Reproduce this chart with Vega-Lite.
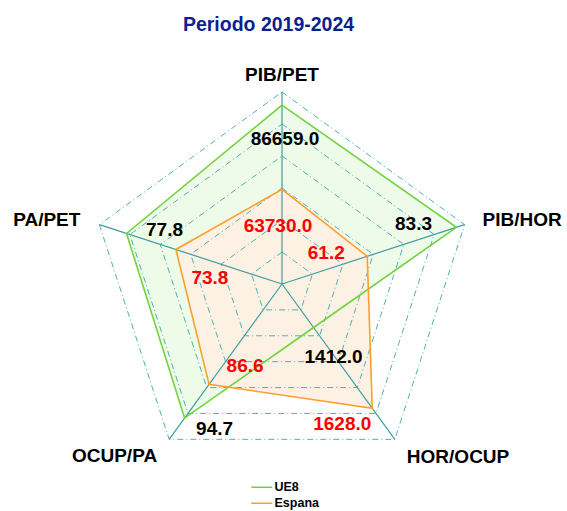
{
  "$schema": "https://vega.github.io/schema/vega-lite/v6.json",
  "width": 567,
  "height": 471,
  "autosize": "none",
  "padding": {"top": 40, "left": 0, "right": 0, "bottom": 0},
  "background": "white",
  "config": {"view": {"stroke": null}, "font": "Liberation Sans"},
  "title": {"text": "Periodo 2019-2024", "font": "Liberation Sans", "fontSize": 19.5, "fontWeight": "bold", "color": "#0b1f8f", "anchor": "middle", "offset": 5, "dx": -15},
  "datasets": {
    "axes": [
      {"axis": "PIB/PET", "order": 0, "lo": 37980, "hi": 90210, "rings": [0.1667, 0.3333, 0.5, 0.6667, 0.8333, 1]},
      {"axis": "PIB/HOR", "order": 1, "lo": 40.1, "hi": 85.3, "rings": [0.1667, 0.3333, 0.5, 0.6667, 0.8333, 1]},
      {"axis": "HOR/OCUP", "order": 2, "lo": 1295.7, "hi": 1711.1, "rings": [0.1667, 0.3333, 0.5, 0.6667, 0.8333, 1]},
      {"axis": "OCUP/PA", "order": 3, "lo": 62.5, "hi": 99.8, "rings": [0.1667, 0.3333, 0.5, 0.6667, 0.8333, 1]},
      {"axis": "PA/PET", "order": 4, "lo": 65.2, "hi": 80.0, "rings": [0.1667, 0.3333, 0.5, 0.6667, 0.8333, 1]}
    ],
    "vals": [
      {"axis": "PIB/PET", "serie": "UE8", "value": 86659.0},
      {"axis": "PIB/HOR", "serie": "UE8", "value": 83.3},
      {"axis": "HOR/OCUP", "serie": "UE8", "value": 1412.0},
      {"axis": "OCUP/PA", "serie": "UE8", "value": 94.7},
      {"axis": "PA/PET", "serie": "UE8", "value": 77.8},
      {"axis": "PIB/PET", "serie": "Espana", "value": 63730.0},
      {"axis": "PIB/HOR", "serie": "Espana", "value": 61.2},
      {"axis": "HOR/OCUP", "serie": "Espana", "value": 1628.0},
      {"axis": "OCUP/PA", "serie": "Espana", "value": 86.6},
      {"axis": "PA/PET", "serie": "Espana", "value": 73.8}
    ]
  },
  "layer": [
    {
      "data": {"name": "vals"},
      "transform": [
        {"filter": "datum.serie == 'UE8'"},
        {"lookup": "axis", "from": {"data": {"name": "axes"}, "key": "axis", "fields": ["order", "lo", "hi"]}},
        {"calculate": "(datum.value - datum.lo) / (datum.hi - datum.lo)", "as": "r"},
        {"calculate": "(90 - 72 * datum.order) * PI / 180", "as": "ang"},
        {"calculate": "datum.r * cos(datum.ang)", "as": "px"},
        {"calculate": "datum.r * sin(datum.ang)", "as": "py"}
      ],
      "mark": {"type": "line", "interpolate": "linear-closed", "fill": "#eefbe8", "strokeOpacity": 0},
      "encoding": {
        "x": {"field": "px", "type": "quantitative", "scale": {"domain": [-1.46875, 1.484375], "nice": false, "zero": false}, "axis": null},
        "y": {"field": "py", "type": "quantitative", "scale": {"domain": [-1.1823, 1.2708], "nice": false, "zero": false}, "axis": null},
        "order": {"field": "order", "type": "quantitative"}
      }
    },
    {
      "data": {"name": "vals"},
      "transform": [
        {"filter": "datum.serie == 'Espana'"},
        {"lookup": "axis", "from": {"data": {"name": "axes"}, "key": "axis", "fields": ["order", "lo", "hi"]}},
        {"calculate": "(datum.value - datum.lo) / (datum.hi - datum.lo)", "as": "r"},
        {"calculate": "(90 - 72 * datum.order) * PI / 180", "as": "ang"},
        {"calculate": "datum.r * cos(datum.ang)", "as": "px"},
        {"calculate": "datum.r * sin(datum.ang)", "as": "py"}
      ],
      "mark": {"type": "line", "interpolate": "linear-closed", "fill": "#fdf1e3", "strokeOpacity": 0},
      "encoding": {
        "x": {"field": "px", "type": "quantitative"},
        "y": {"field": "py", "type": "quantitative"},
        "order": {"field": "order", "type": "quantitative"}
      }
    },
    {
      "data": {"name": "axes"},
      "transform": [
        {"flatten": ["rings"]},
        {"calculate": "(90 - 72 * datum.order) * PI / 180", "as": "ang"},
        {"calculate": "datum.rings * cos(datum.ang)", "as": "px"},
        {"calculate": "datum.rings * sin(datum.ang)", "as": "py"}
      ],
      "mark": {"type": "line", "interpolate": "linear-closed", "stroke": "#4fb0b3", "strokeWidth": 1, "strokeDash": [6, 3, 1, 3]},
      "encoding": {
        "x": {"field": "px", "type": "quantitative"},
        "y": {"field": "py", "type": "quantitative"},
        "detail": {"field": "rings", "type": "nominal"},
        "order": {"field": "order", "type": "quantitative"}
      }
    },
    {
      "data": {"name": "axes"},
      "transform": [
        {"calculate": "(90 - 72 * datum.order) * PI / 180", "as": "ang"},
        {"calculate": "cos(datum.ang)", "as": "ox"},
        {"calculate": "sin(datum.ang)", "as": "oy"},
        {"calculate": "0", "as": "zero"}
      ],
      "mark": {"type": "rule", "stroke": "#3d9ea1", "strokeWidth": 1.2},
      "encoding": {
        "x": {"field": "zero", "type": "quantitative"},
        "y": {"field": "zero", "type": "quantitative"},
        "x2": {"field": "ox"},
        "y2": {"field": "oy"}
      }
    },
    {
      "data": {"name": "vals"},
      "transform": [
        {"lookup": "axis", "from": {"data": {"name": "axes"}, "key": "axis", "fields": ["order", "lo", "hi"]}},
        {"calculate": "(datum.value - datum.lo) / (datum.hi - datum.lo)", "as": "r"},
        {"calculate": "(90 - 72 * datum.order) * PI / 180", "as": "ang"},
        {"calculate": "datum.r * cos(datum.ang)", "as": "px"},
        {"calculate": "datum.r * sin(datum.ang)", "as": "py"}
      ],
      "mark": {"type": "line", "interpolate": "linear-closed", "strokeWidth": 1.6},
      "encoding": {
        "x": {"field": "px", "type": "quantitative"},
        "y": {"field": "py", "type": "quantitative"},
        "order": {"field": "order", "type": "quantitative"},
        "color": {"field": "serie", "type": "nominal", "scale": {"domain": ["UE8", "Espana"], "range": ["#6fd43f", "#ff9f2a"]},
          "legend": {"title": null, "orient": "none", "legendX": 255.5, "legendY": 441, "symbolType": "M-2.1,0H2.1", "symbolSize": 100, "symbolStrokeWidth": 1.5, "labelFont": "Liberation Sans", "labelFontSize": 12.5, "labelFontWeight": "bold", "labelColor": "black", "labelOffset": 6.5, "rowPadding": 3, "padding": 0}}
      }
    },
    {
      "data": {"name": "vals"},
      "transform": [
        {"lookup": "axis", "from": {"data": {"name": "axes"}, "key": "axis", "fields": ["order", "lo", "hi"]}},
        {"calculate": "(datum.value - datum.lo) / (datum.hi - datum.lo)", "as": "r"},
        {"calculate": "(90 - 72 * datum.order) * PI / 180", "as": "ang"},
        {"calculate": "datum.r * cos(datum.ang)", "as": "px"},
        {"calculate": "datum.r * sin(datum.ang)", "as": "py"},
        {"calculate": "format(datum.value, '.1f')", "as": "lbl"}
      ],
      "encoding": {
        "x": {"field": "px", "type": "quantitative"},
        "y": {"field": "py", "type": "quantitative"},
        "text": {"field": "lbl", "type": "nominal"}
      },
      "layer": [
        {"transform": [{"filter": "datum.serie == 'UE8' && datum.axis == 'PIB/PET'"}], "mark": {"type": "text", "fontSize": 19, "fontWeight": "bold", "color": "black", "align": "center", "baseline": "middle", "dx": 3, "dy": 34}},
        {"transform": [{"filter": "datum.serie == 'UE8' && datum.axis == 'PIB/HOR'"}], "mark": {"type": "text", "fontSize": 19, "fontWeight": "bold", "color": "black", "align": "center", "baseline": "middle", "dx": -43, "dy": -3}},
        {"transform": [{"filter": "datum.serie == 'UE8' && datum.axis == 'HOR/OCUP'"}], "mark": {"type": "text", "fontSize": 19, "fontWeight": "bold", "color": "black", "align": "center", "baseline": "middle", "dx": 20, "dy": 30}},
        {"transform": [{"filter": "datum.serie == 'UE8' && datum.axis == 'OCUP/PA'"}], "mark": {"type": "text", "fontSize": 19, "fontWeight": "bold", "color": "black", "align": "center", "baseline": "middle", "dx": 30, "dy": 11}},
        {"transform": [{"filter": "datum.serie == 'UE8' && datum.axis == 'PA/PET'"}], "mark": {"type": "text", "fontSize": 19, "fontWeight": "bold", "color": "black", "align": "center", "baseline": "middle", "dx": 38, "dy": -3}},
        {"transform": [{"filter": "datum.serie == 'Espana' && datum.axis == 'PIB/PET'"}], "mark": {"type": "text", "fontSize": 19, "fontWeight": "bold", "color": "#ff0000", "align": "center", "baseline": "middle", "dx": -4, "dy": 37}},
        {"transform": [{"filter": "datum.serie == 'Espana' && datum.axis == 'PIB/HOR'"}], "mark": {"type": "text", "fontSize": 19, "fontWeight": "bold", "color": "#ff0000", "align": "center", "baseline": "middle", "dx": -41, "dy": -3}},
        {"transform": [{"filter": "datum.serie == 'Espana' && datum.axis == 'HOR/OCUP'"}], "mark": {"type": "text", "fontSize": 19, "fontWeight": "bold", "color": "#ff0000", "align": "center", "baseline": "middle", "dx": -30, "dy": 16}},
        {"transform": [{"filter": "datum.serie == 'Espana' && datum.axis == 'OCUP/PA'"}], "mark": {"type": "text", "fontSize": 19, "fontWeight": "bold", "color": "#ff0000", "align": "center", "baseline": "middle", "dx": 36, "dy": -18}},
        {"transform": [{"filter": "datum.serie == 'Espana' && datum.axis == 'PA/PET'"}], "mark": {"type": "text", "fontSize": 19, "fontWeight": "bold", "color": "#ff0000", "align": "center", "baseline": "middle", "dx": 34, "dy": 28}}
      ]
    },
    {
      "data": {"name": "axes"},
      "transform": [
        {"calculate": "(90 - 72 * datum.order) * PI / 180", "as": "ang"},
        {"calculate": "cos(datum.ang)", "as": "ox"},
        {"calculate": "sin(datum.ang)", "as": "oy"}
      ],
      "encoding": {
        "x": {"field": "ox", "type": "quantitative"},
        "y": {"field": "oy", "type": "quantitative"},
        "text": {"field": "axis", "type": "nominal"}
      },
      "layer": [
        {"transform": [{"filter": "datum.axis == 'PIB/PET'"}], "mark": {"type": "text", "fontSize": 19, "fontWeight": "bold", "color": "black", "align": "center", "baseline": "middle", "dy": -17}},
        {"transform": [{"filter": "datum.axis == 'PIB/HOR'"}], "mark": {"type": "text", "fontSize": 19, "fontWeight": "bold", "color": "black", "align": "left", "baseline": "middle", "dx": 18, "dy": -5}},
        {"transform": [{"filter": "datum.axis == 'HOR/OCUP'"}], "mark": {"type": "text", "fontSize": 19, "fontWeight": "bold", "color": "black", "align": "left", "baseline": "middle", "dx": 12, "dy": 18}},
        {"transform": [{"filter": "datum.axis == 'OCUP/PA'"}], "mark": {"type": "text", "fontSize": 19, "fontWeight": "bold", "color": "black", "align": "right", "baseline": "middle", "dx": -12, "dy": 17}},
        {"transform": [{"filter": "datum.axis == 'PA/PET'"}], "mark": {"type": "text", "fontSize": 19, "fontWeight": "bold", "color": "black", "align": "right", "baseline": "middle", "dx": -19, "dy": -5}}
      ]
    }
  ]
}
